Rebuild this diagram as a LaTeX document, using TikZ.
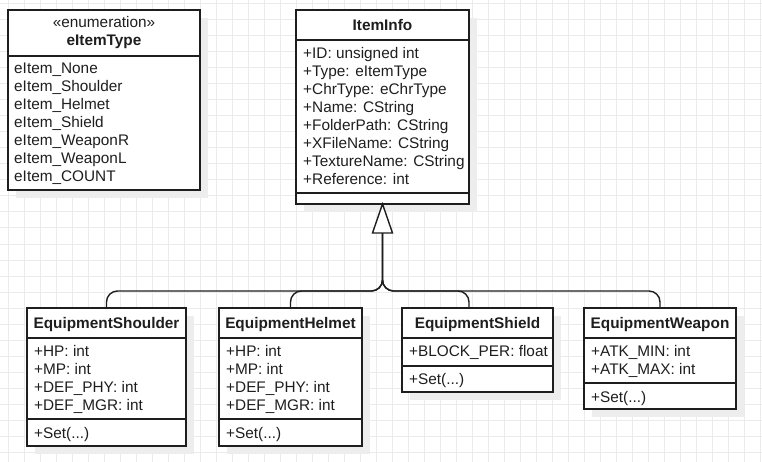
\documentclass[tikz,border=0pt]{standalone}
\usepackage{fontspec}
\setmainfont{Liberation Sans}
\usetikzlibrary{calc}
\definecolor{ink}{HTML}{1E1E1E}
\definecolor{gridc}{HTML}{EBEBEB}
\definecolor{shadowc}{HTML}{EDEDED}
\tikzset{
  classbox/.style={draw=ink, line width=1.4pt, fill=white, anchor=north west, inner sep=0pt, outer sep=0pt},
  shadowbox/.style={fill=shadowc, draw=none, anchor=north west, inner sep=0pt, outer sep=0pt},
  sepline/.style={draw=ink, line width=1.4pt},
  txt/.style={text=ink, inner sep=0pt, anchor=base west, font=\fontsize{15.35}{18}\selectfont},
  ttl/.style={text=ink, inner sep=0pt, anchor=base, font=\fontsize{15.35}{18}\selectfont\bfseries},
  ster/.style={text=ink, inner sep=0pt, anchor=base, font=\fontsize{15.35}{18}\selectfont},
  conn/.style={draw=ink, line width=1.4pt, rounded corners=11pt},
}
\begin{document}
\begin{tikzpicture}[x=1pt,y=-1pt]
\useasboundingbox (0,0) rectangle (762,462);
\fill[white] (0,0) rectangle (762,462);
% grid
\foreach \gx in {8.7,24.7,...,762} \draw[gridc, line width=1pt] (\gx,0) -- (\gx,462);
\foreach \gy in {4,20,...,462} \draw[gridc, line width=1pt] (0,\gy) -- (762,\gy);

% shadows
\node[shadowbox, minimum width=192, minimum height=180] (sh1) at (16,18) {};
\node[shadowbox, minimum width=173, minimum height=194] (sh2) at (304,18) {};
\node[shadowbox, minimum width=159, minimum height=138] (sh3) at (35,316) {};
\node[shadowbox, minimum width=143, minimum height=138] (sh4) at (227,316) {};
\node[shadowbox, minimum width=151, minimum height=84] (sh5) at (410,316) {};
\node[shadowbox, minimum width=152, minimum height=101] (sh6) at (592,316) {};

% eItemType
\node[classbox, minimum width=192, minimum height=180] (enum) at (8,10) {};
\draw[sepline] (enum.west |- 0,56) -- (enum.east |- 0,56);
\node[ster] (enumst) at (104,28) {«enumeration»};
\node[ttl] (enumt) at (104,46) {eItemType};
\node[txt] (e1) at (14,74) {eItem\_None};
\node[txt] (e2) at (14,92) {eItem\_Shoulder};
\node[txt] (e3) at (14,110) {eItem\_Helmet};
\node[txt] (e4) at (14,128) {eItem\_Shield};
\node[txt] (e5) at (14,146) {eItem\_WeaponR};
\node[txt] (e6) at (14,164) {eItem\_WeaponL};
\node[txt] (e7) at (14,182) {eItem\_COUNT};

% ItemInfo
\node[classbox, minimum width=173, minimum height=194] (info) at (296,10) {};
\draw[sepline] (info.west |- 0,40) -- (info.east |- 0,40);
\draw[sepline] (info.west |- 0,193) -- (info.east |- 0,193);
\node[ttl] (infot) at (382.5,31) {ItemInfo};
\node[txt] (i1) at (303,58.5) {+ID: unsigned int};
\node[txt] (i2) at (303,76.5) {+Type: eItemType};
\node[txt] (i3) at (303,94.5) {+ChrType: eChrType};
\node[txt] (i4) at (303,112.5) {+Name: CString};
\node[txt] (i5) at (303,130.5) {+FolderPath: CString};
\node[txt] (i6) at (303,148.5) {+XFileName: CString};
\node[txt] (i7) at (303,166.5) {+TextureName: CString};
\node[txt] (i8) at (303,184.5) {+Reference: int};

% EquipmentShoulder
\node[classbox, minimum width=159, minimum height=138] (shoulder) at (27,308) {};
\draw[sepline] (shoulder.west |- 0,338) -- (shoulder.east |- 0,338);
\draw[sepline] (shoulder.west |- 0,419) -- (shoulder.east |- 0,419);
\node[ttl] (shouldert) at (106.5,328.5) {EquipmentShoulder};
\node[txt] (s1) at (34,356) {+HP: int};
\node[txt] (s2) at (34,374) {+MP: int};
\node[txt] (s3) at (34,392) {+DEF\_PHY: int};
\node[txt] (s4) at (34,410) {+DEF\_MGR: int};
\node[txt] (s5) at (34,438) {+Set(...)};

% EquipmentHelmet
\node[classbox, minimum width=143, minimum height=138] (helmet) at (219,308) {};
\draw[sepline] (helmet.west |- 0,338) -- (helmet.east |- 0,338);
\draw[sepline] (helmet.west |- 0,419) -- (helmet.east |- 0,419);
\node[ttl] (helmett) at (290.5,328.5) {EquipmentHelmet};
\node[txt] (h1) at (226,356) {+HP: int};
\node[txt] (h2) at (226,374) {+MP: int};
\node[txt] (h3) at (226,392) {+DEF\_PHY: int};
\node[txt] (h4) at (226,410) {+DEF\_MGR: int};
\node[txt] (h5) at (226,438) {+Set(...)};

% EquipmentShield
\node[classbox, minimum width=151, minimum height=84] (shield) at (402,308) {};
\draw[sepline] (shield.west |- 0,338) -- (shield.east |- 0,338);
\draw[sepline] (shield.west |- 0,366) -- (shield.east |- 0,366);
\node[ttl] (shieldt) at (477.5,328.5) {EquipmentShield};
\node[txt] (d1) at (409,356) {+BLOCK\_PER: float};
\node[txt] (d2) at (409,384) {+Set(...)};

% EquipmentWeapon
\node[classbox, minimum width=152, minimum height=101] (weapon) at (584,308) {};
\draw[sepline] (weapon.west |- 0,338) -- (weapon.east |- 0,338);
\draw[sepline] (weapon.west |- 0,383) -- (weapon.east |- 0,383);
\node[ttl] (weapont) at (660,328.5) {EquipmentWeapon};
\node[txt] (w1) at (591,356) {+ATK\_MIN: int};
\node[txt] (w2) at (591,374) {+ATK\_MAX: int};
\node[txt] (w3) at (591,402) {+Set(...)};

% inheritance
\coordinate (tri) at (382.5,233);
\coordinate (bus) at (382.5,291);
\coordinate (shieldtop) at ($(shield.north west)+(67,0)$);
\draw[conn] (shoulder.north) |- (bus) -- (tri);
\draw[conn] (helmet.north) |- (bus) -- (tri);
\draw[conn] (shieldtop) |- (bus) -- (tri);
\draw[conn] (weapon.north) |- (bus) -- (tri);
\draw[draw=ink, line width=1.4pt, fill=white, line join=miter]
  ($(tri)+(-10,0)$) -- (info.south) -- ($(tri)+(10,0)$) -- cycle;
\end{tikzpicture}
\end{document}
